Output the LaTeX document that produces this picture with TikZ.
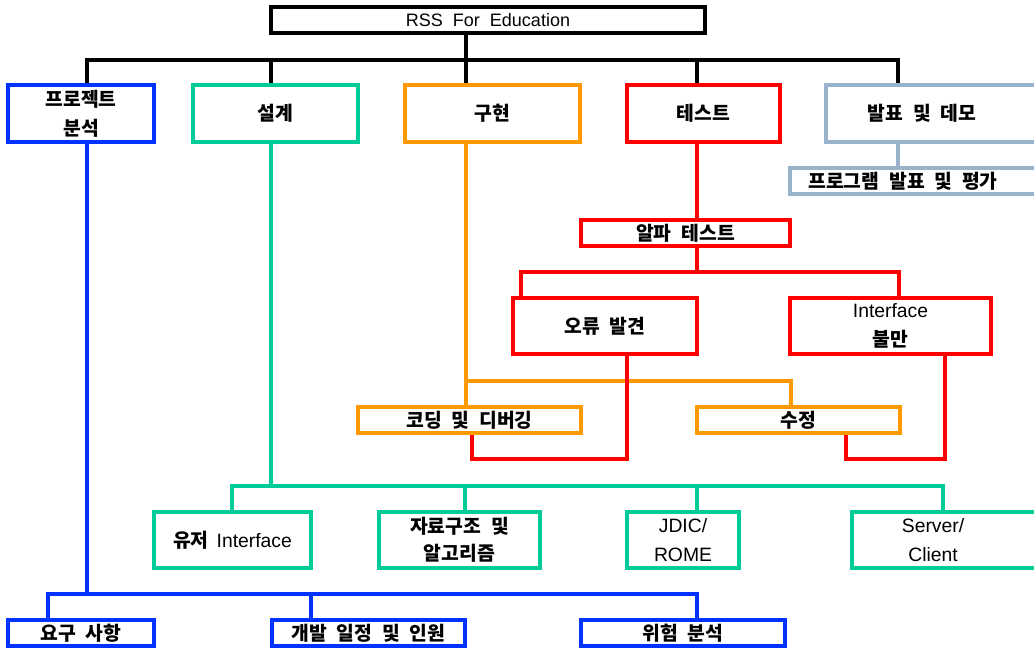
\documentclass[tikz,border=0pt]{standalone}
\usepackage{fontspec}
\setmainfont{Liberation Sans}[WordSpace=2]
\newfontfamily\kr{Noto Sans CJK KR}[WordSpace=2.2]
\newcommand\K[1]{{\kr\bfseries #1}}
\definecolor{cblue}{RGB}{0,51,255}
\definecolor{cgreen}{RGB}{0,204,153}
\definecolor{corange}{RGB}{255,153,0}
\definecolor{cred}{RGB}{255,0,0}
\definecolor{cgray}{RGB}{153,179,204}
\newcommand\bx[7]{\node[box,#6,minimum width={(#4-#2)*0.75pt},minimum height={(#5-#3)*0.75pt}] (#1) at ({(#2+#4)/2},{(#3+#5)/2}) {#7};}
\tikzset{
  box/.style={draw, line width=2.3pt, fill=white, inner sep=0pt, align=center,
    font=\fontsize{14.5}{22}\selectfont},
  ln/.style={line width=2.3pt},
  kbox/.style={draw=black, line width=2.4pt, font=\fontsize{13.5}{16}\selectfont},
  bbox/.style={draw=cblue},
  gbox/.style={draw=cgreen},
  gbig/.style={draw=cgreen, font=\fontsize{14.5}{22}\selectfont},
  obox/.style={draw=corange},
  rbox/.style={draw=cred},
  ybox/.style={draw=cgray},
}
\begin{document}
\begin{tikzpicture}[x=0.75pt,y=-0.75pt]
\useasboundingbox (0,0) rectangle (1034,648);
% coordinates
\coordinate (k1) at (87,60); \coordinate (k2) at (271,60); \coordinate (k3) at (466,60);
\coordinate (k4) at (697,60); \coordinate (k5) at (898,60);
\coordinate (r1) at (697,272); \coordinate (r2) at (521,272); \coordinate (r3) at (899,272);
\coordinate (r4) at (627,459); \coordinate (r5) at (472,459);
\coordinate (r6) at (945,459); \coordinate (r7) at (846,459);
\coordinate (o1) at (466,381); \coordinate (o2) at (791,381);
\coordinate (g0) at (271,486); \coordinate (g1) at (232,486); \coordinate (g2) at (465,486);
\coordinate (g3) at (697,486); \coordinate (g4) at (943,486);
\coordinate (b0) at (87,594); \coordinate (b1) at (48,594); \coordinate (b2) at (311,594);
\coordinate (b3) at (697,594);
% boxes
\bx{root}{271}{7}{705}{33}{kbox}{RSS For Education}
\bx{pa}{8}{85}{154}{142}{bbox}{\K{프로젝트}\\\K{분석}}
\bx{sg}{193}{85}{358}{142}{gbox}{\K{설계}}
\bx{gh}{405}{85}{580}{142}{obox}{\K{구현}}
\bx{ts}{627}{85}{780}{142}{rbox}{\K{테스트}}
\bx{bp}{826}{85}{1040}{142}{ybox,label={[xshift=-8.25pt,font=\fontsize{14.5}{22}\selectfont]center:\K{발표 및 데모}}}{}
\bx{pe}{790}{168}{1040}{194}{ybox,label={[xshift=-9pt,font=\fontsize{14.5}{22}\selectfont]center:\K{프로그램 발표 및 평가}}}{}
\bx{al}{581}{220}{790}{246}{rbox}{\K{알파 테스트}}
\bx{er}{513}{298}{697}{354}{rbox}{\K{오류 발견}}
\bx{ib}{790}{298}{991}{354}{rbox}{Interface\\\K{불만}}
\bx{cd}{358}{407}{581}{433}{obox}{\K{코딩 및 디버깅}}
\bx{fx}{697}{407}{900}{433}{obox}{\K{수정}}
\bx{ui}{154}{512}{311}{568}{gbig}{\K{유저}\hspace{6pt}Interface}
\bx{ds}{379}{512}{540}{568}{gbox,font=\fontsize{14.5}{20}\selectfont}{\K{자료구조 및}\\\K{알고리즘}}
\bx{jd}{627}{512}{739}{568}{gbig}{JDIC/\\ROME}
\bx{sc}{852}{512}{1040}{568}{gbig,label={[xshift=-9.75pt,align=center,font=\fontsize{14.5}{22}\selectfont]center:Server/\\Client}}{}
\bx{rq}{8}{620}{154}{646}{bbox}{\K{요구 사항}}
\bx{dv}{272}{620}{465}{646}{bbox}{\K{개발 일정 및 인원}}
\bx{rk}{581}{620}{785}{646}{bbox}{\K{위험 분석}}
% black connectors
\draw[ln] (k3 |- root.south) -- (k3);
\draw[ln] (k1 |- pa.north) -- (k1) -- (k5) -- (k5 |- bp.north);
\draw[ln] (k2) -- (k2 |- sg.north);
\draw[ln] (k3) -- (k3 |- gh.north);
\draw[ln] (k4) -- (k4 |- ts.north);
% gray
\draw[ln, cgray] (k5 |- bp.south) -- (k5 |- pe.north);
% orange
\draw[ln, corange] (o1 |- gh.south) -- (o1 |- cd.north);
\draw[ln, corange] (o1) -- (o2) -- (o2 |- fx.north);
% red
\draw[ln, cred] (k4 |- ts.south) -- (k4 |- al.north);
\draw[ln, cred] (r1 |- al.south) -- (r1);
\draw[ln, cred] (r2 |- er.north) -- (r2) -- (r3) -- (r3 |- ib.north);
\draw[ln, cred] (r4 |- er.south) -- (r4) -- (r5) -- (r5 |- cd.south);
\draw[ln, cred] (r6 |- ib.south) -- (r6) -- (r7) -- (r7 |- fx.south);
% green
\draw[ln, cgreen] (g0 |- sg.south) -- (g0);
\draw[ln, cgreen] (g1 |- ui.north) -- (g1) -- (g4) -- (g4 |- sc.north);
\draw[ln, cgreen] (g2) -- (g2 |- ds.north);
\draw[ln, cgreen] (g3) -- (g3 |- jd.north);
% blue
\draw[ln, cblue] (b0 |- pa.south) -- (b0);
\draw[ln, cblue] (b1 |- rq.north) -- (b1) -- (b3) -- (b3 |- rk.north);
\draw[ln, cblue] (b2) -- (b2 |- dv.north);
\end{tikzpicture}
\end{document}
